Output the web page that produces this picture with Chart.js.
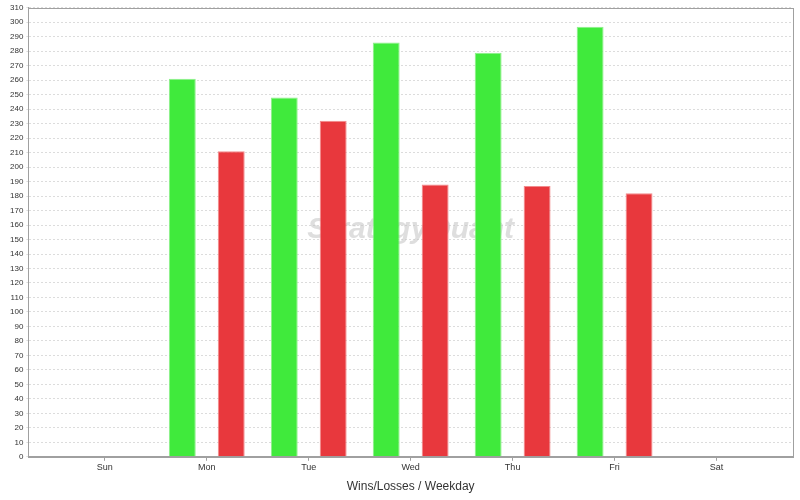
<!DOCTYPE html>
<html>
<head>
<meta charset="utf-8">
<script src="https://cdn.jsdelivr.net/npm/chart.js@4"></script>
<style>
  html, body { margin: 0; padding: 0; background: #fff; }
  #wrap { width: 800px; height: 500px; }
</style>
</head>
<body>
<div id="wrap"><canvas id="weekdayChart"></canvas></div>
<script>
const weekdays = ['Sun', 'Mon', 'Tue', 'Wed', 'Thu', 'Fri', 'Sat'];
const wins = [null, 261, 248, 286, 279, 297, null];
const losses = [null, 211, 232, 188, 187, 182, null];

const winColor = '#40ea3c';
const lossColor = '#e8383d';
const textColor = '#333333';

// outline around plot area + faint watermark behind the bars
const plotFrame = {
    id: 'plotFrame',
    beforeDatasetsDraw(chart) {
        const { ctx, chartArea: a } = chart;
        ctx.save();
        ctx.font = 'italic bold 30px "Liberation Sans", Arial, sans-serif';
        ctx.fillStyle = 'rgba(195, 195, 195, 0.55)';
        ctx.textAlign = 'center';
        ctx.textBaseline = 'middle';
        ctx.fillText('StrategyQuant', (a.left + a.right) / 2, 230);
        ctx.restore();
    },
    afterDraw(chart) {
        const { ctx, chartArea: a } = chart;
        ctx.save();
        ctx.strokeStyle = '#a0a0a0';
        ctx.lineWidth = 1;
        ctx.strokeRect(Math.round(a.left) + 0.5, Math.round(a.top) + 0.5,
            Math.round(a.right - a.left), Math.round(a.bottom - a.top));
        ctx.restore();
    }
};

new Chart(document.getElementById('weekdayChart'), {
    type: 'bar',
    data: {
        datasets: [{
            label: 'Wins',
            data: wins.map((v, i) => ({ x: i, y: v })),
            backgroundColor: winColor,
            borderColor: '#8cf089',
            borderWidth: 1
        }, {
            label: 'Losses',
            data: losses.map((v, i) => ({ x: i, y: v })),
            backgroundColor: lossColor,
            borderColor: '#f28a8c',
            borderWidth: 1
        }]
    },
    options: {
        responsive: true,
        maintainAspectRatio: false,
        animation: false,
        categoryPercentage: 0.96,
        barPercentage: 0.55,
        layout: { padding: { top: 4, right: 7, left: 7, bottom: 6 } },
        plugins: {
            legend: { display: false },
            tooltip: { enabled: false }
        },
        scales: {
            x: {
                type: 'linear',
                min: -0.75,
                max: 6.75,
                offset: false,
                afterBuildTicks: s => { s.ticks = weekdays.map((_, i) => ({ value: i })); },
                ticks: {
                    autoSkip: false,
                    maxRotation: 0,
                    padding: 1,
                    color: textColor,
                    font: { family: '"Liberation Sans", Arial, sans-serif', size: 9 },
                    callback: v => weekdays[v]
                },
                grid: { offset: false, drawOnChartArea: false, tickLength: 4, color: '#a0a0a0' },
                border: { color: '#a0a0a0' },
                title: {
                    display: true,
                    text: 'Wins/Losses / Weekday',
                    color: textColor,
                    font: { family: '"Liberation Sans", Arial, sans-serif', size: 12 },
                    padding: { top: 6, bottom: 0 }
                }
            },
            y: {
                min: 0,
                max: 310,
                ticks: {
                    stepSize: 10,
                    autoSkip: false,
                    color: textColor,
                    padding: 3,
                    font: { family: '"Liberation Sans", Arial, sans-serif', size: 8 }
                },
                grid: { color: '#dcdcdc', tickLength: 2 },
                border: { dash: [2, 2], color: '#a0a0a0' }
            }
        }
    },
    plugins: [plotFrame]
});
</script>
</body>
</html>
